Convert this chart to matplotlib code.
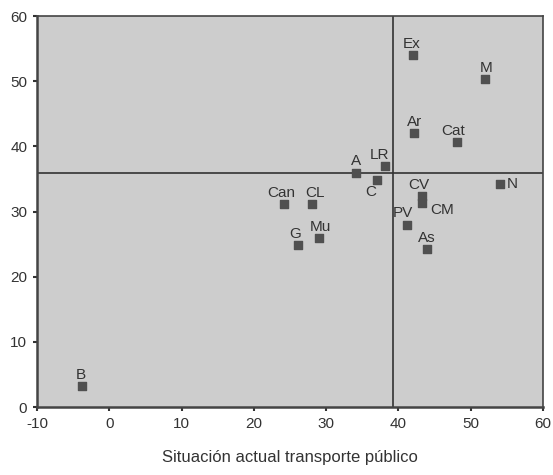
import matplotlib
matplotlib.use("Agg")
import matplotlib.pyplot as plt

plt.rcParams['font.family'] = ['Liberation Sans', 'DejaVu Sans']
plt.rcParams['axes.unicode_minus'] = False

# situacion actual transporte publico (x) vs. second score (y)
labels = ['B', 'Ex', 'M', 'Ar', 'Cat', 'LR', 'A', 'C', 'N', 'CV', 'CM',
          'Can', 'CL', 'PV', 'Mu', 'G', 'As']
x_vals = [-3.8, 42.0, 52.0, 42.2, 48.1, 38.2, 34.1, 37.0, 54.0, 43.2, 43.2,
          24.2, 28.1, 41.2, 29.0, 26.1, 43.9]
y_vals = [3.2, 54.0, 50.3, 42.0, 40.7, 37.0, 36.0, 34.9, 34.2, 32.4, 31.3,
          31.1, 31.1, 28.0, 26.0, 24.8, 24.2]
# label offsets in points (dx, dy) and alignment
label_pos = {
    'B': (-1, 3, 'center'), 'Ex': (-1, 3, 'center'), 'M': (1, 3, 'center'),
    'Ar': (0, 3, 'center'), 'Cat': (-3, 3, 'center'), 'LR': (-4, 3, 'center'),
    'A': (0, 3, 'center'), 'C': (-4, -14, 'center'), 'N': (5, -5, 'left'),
    'CV': (-2, 3, 'center'), 'CM': (6, -10, 'left'), 'Can': (-2, 3, 'center'),
    'CL': (2, 3, 'center'), 'PV': (-3, 3, 'center'), 'Mu': (1, 3, 'center'),
    'G': (-2, 3, 'center'), 'As': (0, 3, 'center'),
}
x_mean = 39.2
y_mean = 36.0

fig = plt.figure(figsize=(5.53, 4.75), dpi=100)
ax = fig.add_axes([0.067, 0.143, 0.915, 0.823])
ax.set_facecolor('#cdcdcd')

ax.scatter(x_vals, y_vals, marker='s', s=30, color='#505050', zorder=3)
for lab, xv, yv in zip(labels, x_vals, y_vals):
    dx, dy, ha = label_pos[lab]
    ax.annotate(lab, (xv, yv), xytext=(dx, dy), textcoords='offset points',
                ha=ha, va='bottom', fontsize=11, color='#333333')

ax.axvline(x_mean, color='#333333', lw=1.2, zorder=2)
ax.axhline(y_mean, color='#333333', lw=1.2, zorder=2)

ax.set_xlim(-10, 60)
ax.set_ylim(0, 60)
ax.set_xticks(range(-10, 61, 10))
ax.set_yticks(range(0, 61, 10))
ax.tick_params(length=3, width=1.5, labelsize=11, colors='#333333', pad=4)
for sp in ax.spines.values():
    sp.set_color('#444444')
    sp.set_linewidth(1.2)
ax.spines['bottom'].set_linewidth(1.8)
ax.spines['left'].set_linewidth(1.8)

ax.set_xlabel('Situación actual transporte público', fontsize=12,
              color='#333333', labelpad=14)

fig.savefig('out.png', dpi=100)
